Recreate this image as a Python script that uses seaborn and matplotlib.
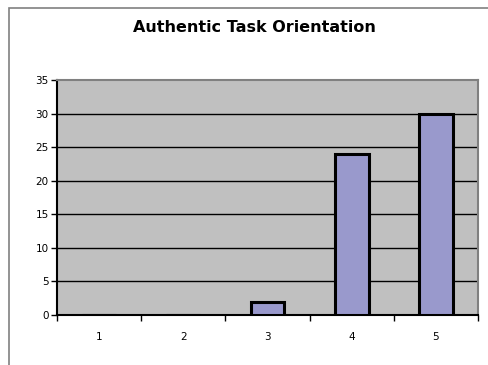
import matplotlib
matplotlib.use("Agg")
import matplotlib.pyplot as plt
from matplotlib.patches import Rectangle
import seaborn as sns
import pandas as pd

# datos
categorias = ["1", "2", "3", "4", "5"]
valores = [0, 0, 2, 24, 30]
titulo = "Authentic Task Orientation"

df = pd.DataFrame({"cat": categorias, "val": valores})

sns.set_style("white")
plt.rcParams["font.family"] = ["DejaVu Sans"]
plt.rcParams["text.color"] = "black"
plt.rcParams["xtick.color"] = "black"
plt.rcParams["ytick.color"] = "black"

fig = plt.figure(figsize=(4.88, 3.65), dpi=100)
ax = fig.add_axes([57 / 488, 50 / 365, 421 / 488, 235 / 365])
ax.set_facecolor("#c0c0c0")

sns.barplot(data=df, x="cat", y="val", color="#9999cc", edgecolor="black",
            linewidth=2.2, width=0.4, saturation=1, ax=ax, zorder=3)

ax.set_ylim(0, 35)
ax.set_xlim(-0.5, 4.5)
ax.set_yticks(range(0, 36, 5))
for y in range(5, 35, 5):
    ax.axhline(y, color="black", lw=1, zorder=1)

ax.set_xlabel("")
ax.set_ylabel("")
ax.set_xticks(range(5))
ax.set_xticklabels(categorias)
ax.set_xticks([i + 0.5 for i in range(-1, 5)], minor=True)
ax.tick_params(axis="x", which="major", length=0, pad=12, labelsize=7.5)
ax.tick_params(axis="x", which="minor", length=4, width=1, direction="out", color="black")
ax.tick_params(axis="y", length=4, width=1, direction="out", color="black", labelsize=7.5, pad=2)
ax.xaxis.set_ticks_position("bottom")
ax.yaxis.set_ticks_position("left")

for s in ["left", "bottom"]:
    ax.spines[s].set_color("black")
    ax.spines[s].set_linewidth(1.5)
for s in ["top", "right"]:
    ax.spines[s].set_color("#808080")
    ax.spines[s].set_linewidth(1.5)

fig.text(254 / 488, 1 - 28 / 365, titulo, ha="center", va="center",
         fontsize=11.5, fontweight="bold", color="black")

# marco exterior
fig.patches.append(Rectangle((9 / 488, -0.1), 1, 1 - 8 / 365 + 0.1,
                             transform=fig.transFigure, fill=False,
                             ec="#808080", lw=1.2))

fig.savefig("out.png", dpi=100)
